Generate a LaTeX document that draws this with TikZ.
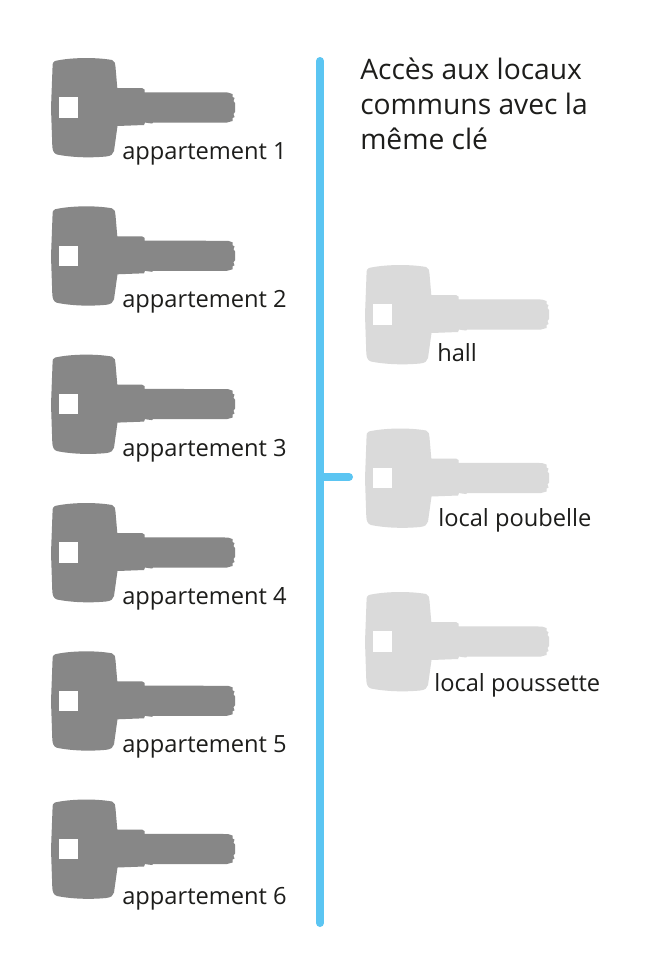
\documentclass[tikz,border=0pt]{standalone}
\usepackage{fontspec}
\setmainfont{Open Sans}
\definecolor{keydark}{HTML}{878787}
\definecolor{keylight}{HTML}{DADADA}
\definecolor{barblue}{HTML}{5BC5F2}
\definecolor{inktext}{HTML}{1D1D1B}
\tikzset{
  x=0.75pt,y=-0.75pt,
  lbl/.style={anchor=base west,inner sep=0pt,text=inktext,font=\fontsize{17.75pt}{20pt}\selectfont},
  ttl/.style={anchor=base west,inner sep=0pt,text=inktext,font=\fontsize{21.15pt}{24pt}\selectfont},
  bar/.style={line width=6pt,line cap=round,draw=barblue},
  pics/keyshape/.style={code={
    \fill[#1]
      (15,16) .. controls (30,12.5) and (55,12) .. (72,15)
      .. controls (75,16) and (75.5,19) .. (75.5,22)
      -- (77.3,43) -- (102,43) -- (104.5,44.5) -- (104.5,47.3)
      -- (188,47.5) -- (192.5,49) -- (192.5,52) -- (194.5,53) -- (193.5,56) -- (195,58) -- (195,67) -- (193.5,69) -- (194.5,72) -- (192.5,73) -- (192.5,76) -- (187,77.5)
      -- (113,77.5) -- (112,78.5) -- (108,78) -- (105,77.5) -- (104,80) -- (77.5,81)
      -- (74,106) .. controls (73.5,109) and (71,111) .. (66,111.5)
      .. controls (50,113) and (32,112.5) .. (17,109.5)
      .. controls (13.5,108.5) and (12.5,105) .. (12.3,101)
      -- (11,63) -- (12.5,23) .. controls (12.5,18) and (13,16.5) .. (15,16) -- cycle;
    \fill[white] (19.3,52.3) rectangle (38.3,72.7);
  }}
}
\begin{document}
\begin{tikzpicture}
\useasboundingbox (0,0) rectangle (666,967);
\fill[white] (0,0) rectangle (666,967);
\pic at (40,45) {keyshape=keydark};
\pic at (40,193.3) {keyshape=keydark};
\pic at (40,341.6) {keyshape=keydark};
\pic at (40,490) {keyshape=keydark};
\pic at (40,638.3) {keyshape=keydark};
\pic at (40,786.5) {keyshape=keydark};
\pic at (354,252) {keyshape=keylight};
\pic at (354,415.5) {keyshape=keylight};
\pic at (354,579) {keyshape=keylight};
\node[lbl] (a1) at (122,159) {appartement 1};
\node[lbl] (a2) at (122,307) {appartement 2};
\node[lbl] (a3) at (122,456) {appartement 3};
\node[lbl] (a4) at (122,604) {appartement 4};
\node[lbl] (a5) at (122,752) {appartement 5};
\node[lbl] (a6) at (122,904) {appartement 6};
\node[lbl] (h) at (437,361) {hall};
\node[lbl] (p) at (438,526) {local poubelle};
\node[lbl] (s) at (434,691) {local poussette};
\node[ttl] (t1) at (360,79) {Accès aux locaux};
\node[ttl] (t2) at (360,114) {communs avec la};
\node[ttl] (t3) at (360,149) {même clé};
\coordinate (bartop) at (320,61);
\coordinate (barbot) at (320,923);
\coordinate (barjoint) at (320,477);
\coordinate (barend) at (349,477);
\draw[bar] (bartop) -- (barbot);
\draw[bar] (barjoint) -- (barend);
\end{tikzpicture}
\end{document}
